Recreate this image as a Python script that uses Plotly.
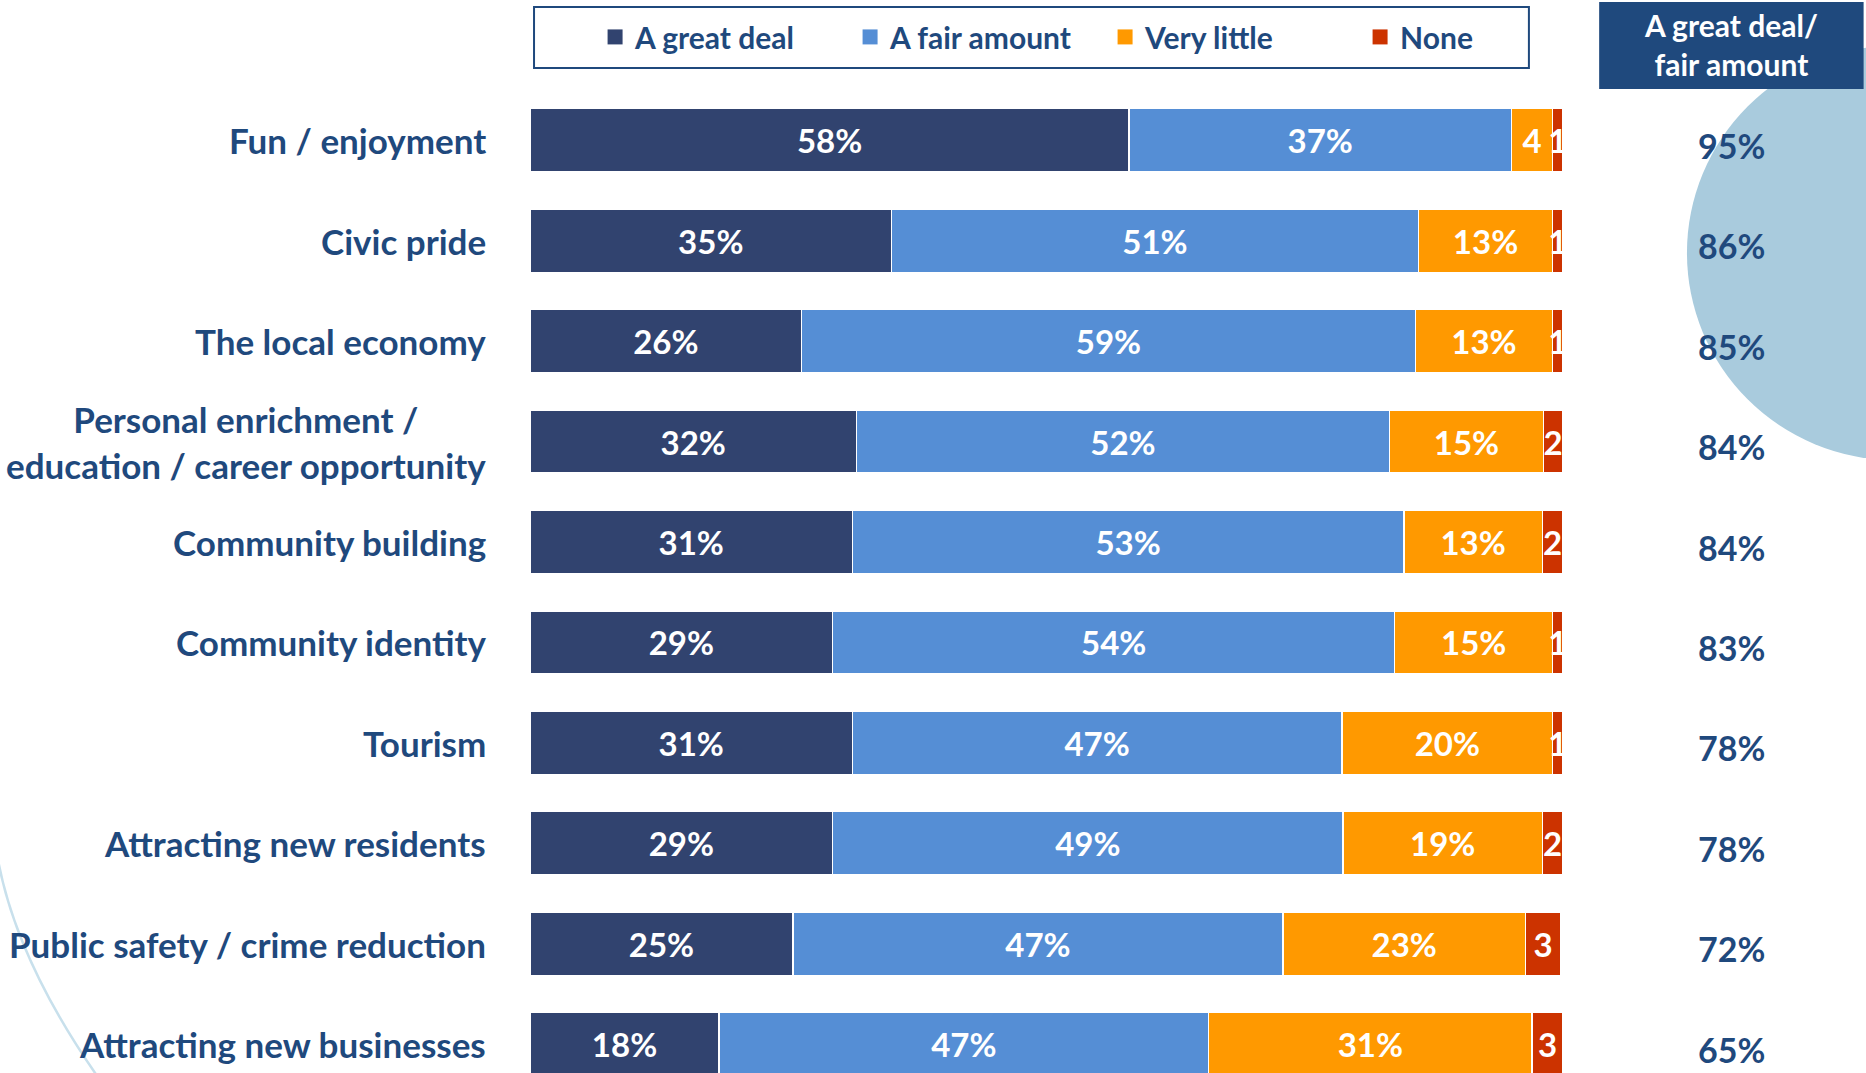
import plotly.graph_objects as go

# survey rows, top to bottom
categories = ["Fun / enjoyment", "Civic pride", "The local economy",
              "Personal enrichment /<br>education / career opportunity",
              "Community building", "Community identity", "Tourism",
              "Attracting new residents", "Public safety / crime reduction",
              "Attracting new businesses"]
great_deal = [58, 35, 26.3, 31.6, 31.2, 29.3, 31.2, 29.3, 25.45, 18.3]
fair_amount = [37, 51, 59.4, 51.6, 53.4, 54.4, 47.4, 49.4, 47.45, 47.4]
very_little = [4, 13, 13.3, 14.9, 13.4, 15.3, 20.4, 19.3, 23.45, 31.3]
none = [1, 1, 1.0, 1.9, 2.0, 1.0, 1.0, 2.0, 3.45, 3.0]
great_or_fair = [95, 86, 85, 84, 84, 83, 78, 78, 72, 65]

series = [("A great deal", great_deal, "#31436F"),
          ("A fair amount", fair_amount, "#558ED5"),
          ("Very little", very_little, "#FF9900"),
          ("None", none, "#CC3300")]

FONT = "Lato"
NAVY = "#1F497D"


def label(v):
    # tiny segments only get the number
    return f"{round(v)}%" if v >= 5 else f"{round(v)}"


fig = go.Figure()
for name, vals, color in series:
    fig.add_trace(go.Bar(
        y=list(range(len(categories))), x=vals, name=name, orientation="h",
        marker=dict(color=color, line=dict(color="white", width=1.5)),
        width=0.63, text=[label(v) for v in vals], showlegend=False,
        textposition="inside", insidetextanchor="middle", constraintext="none",
        textfont=dict(family=FONT, size=33, color="white", weight="bold"),
        hoverinfo="skip"))
# legend entries with bigger square swatches than the bar icon
for name, vals, color in series:
    fig.add_trace(go.Scatter(x=[None], y=[None], mode="markers", name=name,
                             marker=dict(symbol="square", size=15, color=color)))

# row labels, centred text right-aligned against the bars
for i, cat in enumerate(categories):
    fig.add_annotation(x=0, y=i, xref="x", yref="y", text=cat, showarrow=False,
                       xanchor="right", align="center", xshift=-42,
                       font=dict(family=FONT, size=35, color=NAVY, weight="bold"))
    fig.add_annotation(x=1.1627, y=i, xref="paper", yref="y", text=f"{great_or_fair[i]}%",
                       showarrow=False, xanchor="center", yshift=-5,
                       font=dict(family=FONT, size=34, color=NAVY, weight="bold"))

# decorative circle on the right, header box over it
fig.add_shape(type="circle", xref="paper", yref="paper", x0=1.12, x1=1.521, y0=0.6236, y1=1.0448,
              fillcolor="#A9CBDD", line=dict(width=0), layer="below")
fig.add_shape(type="rect", xref="paper", yref="paper", x0=1.035, x1=1.291, y0=1.001, y1=1.0895,
              fillcolor=NAVY, line=dict(width=0))
fig.add_annotation(x=1.1627, y=(1073 - 44) / 983, xref="paper", yref="paper",
                   text="A great deal/<br>fair amount", showarrow=False,
                   xanchor="center", yanchor="middle", align="center",
                   font=dict(family=FONT, size=30, color="white", weight="bold"))
# thin arc bottom-left
fig.add_shape(type="path", xref="paper", yref="paper",
              path="M -0.515,0.2167 Q -0.4966,0.1129 -0.4163,-0.0071",
              line=dict(color="#C8E0EC", width=2.5))
# legend frame
fig.add_shape(type="rect", xref="paper", yref="paper", x0=0.0039, x1=0.967, y0=1.0224, y1=1.0844,
              line=dict(color=NAVY, width=2), fillcolor="rgba(0,0,0,0)")

fig.update_layout(
    barmode="stack", width=1866, height=1073, showlegend=True,
    margin=dict(l=530, r=303, t=90, b=0, autoexpand=False),
    plot_bgcolor="white", paper_bgcolor="white",
    legend=dict(orientation="h", x=0.063, xanchor="left", y=1.054, yanchor="middle",
                entrywidth=210, traceorder="normal", bgcolor="rgba(0,0,0,0)",
                font=dict(family=FONT, size=30, color=NAVY, weight="bold")),
    xaxis=dict(range=[0, 100], visible=False),
    yaxis=dict(range=[9.286, -0.5], visible=False),
)

# page has a default 8px body margin; drop it so the chart fills the window
fig.write_html("out.html", config={"displayModeBar": False},
               post_script="document.body.style.margin='0px';")
